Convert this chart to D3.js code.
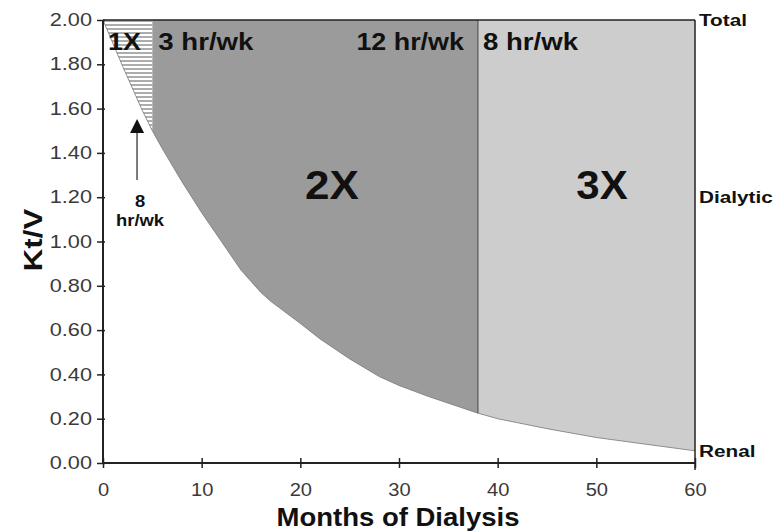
<!DOCTYPE html>
<html><head><meta charset="utf-8">
<script src="https://cdn.jsdelivr.net/npm/d3@7"></script>
<style>body{margin:0;background:#fff}svg{display:block}</style>
</head><body>
<svg id="c" width="776" height="531"></svg>
<script>
// Renal Kt/V curve (months, Kt/V)
const months = [0, 2, 4, 5, 6, 8, 10, 12, 14, 16, 17, 20, 22, 25, 28, 30, 33, 35, 38, 40, 45, 50, 55, 60];
const renalKtV = [2.00, 1.79, 1.59, 1.50, 1.42, 1.27, 1.13, 1.00, 0.87, 0.77, 0.73, 0.63, 0.56, 0.47, 0.39, 0.35, 0.30, 0.27, 0.225, 0.20, 0.155, 0.115, 0.085, 0.055];
const totalKtV = 2.0;
// Regimen regions (start month, end month)
const regionNames = ["1X", "2X", "3X"];
const regionStart = [0, 5, 38];
const regionEnd = [5, 38, 60];
const xTicks = [0, 10, 20, 30, 40, 50, 60];
const yTicks = [0, 0.2, 0.4, 0.6, 0.8, 1.0, 1.2, 1.4, 1.6, 1.8, 2.0];
const rightLabels = ["Total", "Dialytic", "Renal"];
const rightLabelValues = [2.0, 1.2, 0.055];

const svg = d3.select("#c");
const x = d3.scaleLinear().domain([0, 60]).range([103, 695]);
const y = d3.scaleLinear().domain([0, 2]).range([463, 20]);
const data = months.map((m, i) => ({m, v: renalKtV[i]}));
const FONT = "Liberation Sans, Arial, sans-serif";

const defs = svg.append("defs");
const pat = defs.append("pattern").attr("id", "hatch").attr("patternUnits", "userSpaceOnUse")
  .attr("width", 8).attr("height", 4);
pat.append("rect").attr("width", 8).attr("height", 4).attr("fill", "#fff");
pat.append("line").attr("x1", 0).attr("x2", 8).attr("y1", 1).attr("y2", 1)
  .attr("stroke", "#6a6a6a").attr("stroke-width", 1.1);

const fills = ["url(#hatch)", "#9b9b9b", "#cdcdcd"];
regionNames.forEach((n, i) => {
  defs.append("clipPath").attr("id", "clip" + i).append("rect")
    .attr("x", x(regionStart[i])).attr("y", y(totalKtV))
    .attr("width", x(regionEnd[i]) - x(regionStart[i])).attr("height", y(0) - y(totalKtV));
});

const area = d3.area().x(d => x(d.m)).y0(y(totalKtV)).y1(d => y(d.v));
regionNames.forEach((n, i) => {
  svg.append("path").datum(data).attr("d", area).attr("fill", fills[i])
    .attr("clip-path", "url(#clip" + i + ")");
});
svg.append("path").datum(data).attr("d", d3.line().x(d => x(d.m)).y(d => y(d.v)))
  .attr("fill", "none").attr("stroke", "#777").attr("stroke-width", 0.8);

// divider at 38 months
const i38 = months.indexOf(38);
svg.append("line").attr("x1", x(38)).attr("x2", x(38)).attr("y1", y(totalKtV)).attr("y2", y(renalKtV[i38]))
  .attr("stroke", "#444").attr("stroke-width", 1);

// frame top and right
svg.append("line").attr("x1", x(0)).attr("x2", x(60)).attr("y1", y(2)).attr("y2", y(2))
  .attr("stroke", "#222").attr("stroke-width", 1.5);
svg.append("line").attr("x1", x(60)).attr("x2", x(60)).attr("y1", y(2)).attr("y2", y(0) + 7)
  .attr("stroke", "#222").attr("stroke-width", 1.5);

// axes
const xAxis = svg.append("g").attr("transform", `translate(0,${y(0)})`)
  .call(d3.axisBottom(x).tickValues(xTicks).tickFormat(d3.format("d")).tickSize(5).tickPadding(16));
xAxis.selectAll(".tick line").attr("y1", -5);
const yAxis = svg.append("g").attr("transform", `translate(${x(0)},0)`)
  .call(d3.axisLeft(y).tickValues(yTicks).tickFormat(d3.format(".2f")).tickSize(6).tickPadding(5));
yAxis.selectAll(".tick line").attr("x1", 2);
[xAxis, yAxis].forEach(a => {
  a.select(".domain").attr("stroke", "#222").attr("stroke-width", 2).attr("d",
    a === xAxis ? `M${x(0)},0H${x(60)}` : `M0,${y(2)}V${y(0)}`);
  a.selectAll(".tick line").attr("stroke", "#222").attr("stroke-width", 1.5);
  a.selectAll("text").attr("font-family", FONT).attr("font-size", 17.5).attr("fill", "#3a3a3a");
});
yAxis.selectAll(".tick text").each(function() {
  const t = d3.select(this); const tx = +t.attr("x");
  t.attr("transform", `translate(${tx},0) scale(1.24,1)`).attr("x", 0);
});
xAxis.selectAll(".tick text").attr("transform", "scale(1.15,1)");

const label = (t, px, py, size, anchor, sx, weight) => svg.append("text")
  .attr("transform", `translate(${px},${py}) scale(${sx || 1},1)`)
  .attr("text-anchor", anchor || "start").attr("font-family", FONT).attr("font-weight", weight || "bold")
  .attr("font-size", size).attr("fill", "#111").text(t);

// axis titles
label("Months of Dialysis", 398, 526, 25, "middle", 1.1);
svg.append("text").attr("transform", "translate(42,240) rotate(-90) scale(1.2,1)").attr("text-anchor", "middle")
  .attr("font-family", FONT).attr("font-weight", "bold").attr("font-size", 26)
  .attr("fill", "#111").text("Kt/V");

// in-chart labels
label("1X", x(0) + 5, 50, 24, "start", 1.12);
label("3 hr/wk", x(5) + 6, 50, 24, "start", 1.15);
label("12 hr/wk", x(38) - 14, 50, 24, "end", 1.12);
label("8 hr/wk", x(38) + 5, 50, 24, "start", 1.15);
label("2X", 332, 199, 40, "middle", 1.1);
label("3X", 602, 199, 40, "middle", 1.05);
rightLabels.forEach((t, i) => label(t, x(60) + 4, y(rightLabelValues[i]) + 6, 17, "start", 1.22));

// arrow with 8 hr/wk label
const ax = x(3.45);
svg.append("line").attr("x1", ax).attr("x2", ax).attr("y1", 180).attr("y2", 130)
  .attr("stroke", "#333").attr("stroke-width", 1.3);
svg.append("path").attr("d", `M${ax},119L${ax - 7},133L${ax + 7},133Z`).attr("fill", "#111");
label("8", ax + 3, 207, 16, "middle", 1.15);
label("hr/wk", ax + 3, 226, 16, "middle", 1.15);
</script>
</body></html>
